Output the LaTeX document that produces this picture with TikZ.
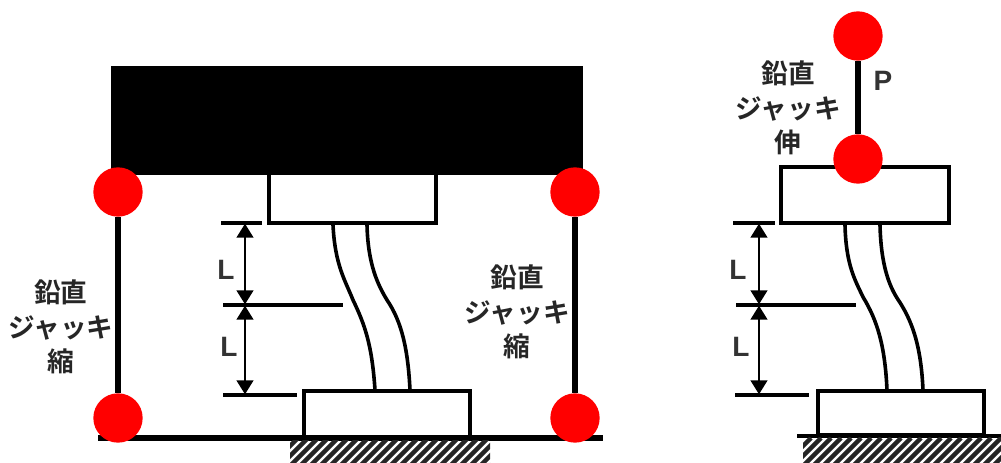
\documentclass[tikz,border=0pt]{standalone}
\usepackage{fontspec}
\setmainfont{Liberation Sans}
\newfontfamily\cjk{Noto Sans CJK JP}[BoldFont=* Bold]
\usetikzlibrary{arrows.meta}
\tikzset{
  x=0.75pt,y=-0.75pt,
  pin/.style={circle,fill=red,draw=none,minimum size=37pt,inner sep=0pt},
  jack/.style={line width=4.2pt,black},
  blockbox/.style={draw=black,line width=3pt,fill=white,inner sep=0pt},
  tick/.style={line width=2.5pt},
  thicktick/.style={line width=3.2pt},
  dim/.style={line width=1.7pt,{Triangle[width=12.5pt,length=10.5pt]}-{Triangle[width=12.5pt,length=10.5pt]},shorten <=0.5pt,shorten >=0.5pt},
  col/.style={line width=2.7pt,line cap=round},
  lab/.style={font=\cjk\bfseries\fontsize{20pt}{26pt}\selectfont,align=center,inner sep=0pt,text=black!85},
  len/.style={font=\bfseries\fontsize{21pt}{21pt}\selectfont,inner sep=0pt,text=black!80},
  hatch/.style={line width=3.2pt,black!85},
  base/.style={line width=3.8pt,black}
}
\begin{document}
\begin{tikzpicture}
\useasboundingbox (0,0) rectangle (1001,463);
% left figure
\fill[black] (111,66) rectangle (583,175);
\draw[blockbox] (269,173) rectangle (436,223);
\draw[blockbox] (304,391) rectangle (470,437);
\coordinate (gl) at (98,438);
\coordinate (gr) at (603,438);
\draw[base] (gl) -- (gr);
\begin{scope}
  \clip (290,441) rectangle (490,463);
  \foreach \k in {-3,...,24}{
    \draw[hatch] (290+\k*10,466) -- ++(28,-28);
  }
\end{scope}
\node[pin] (a1) at (118,192) {};
\node[pin] (a2) at (118,418) {};
\node[pin] (a3) at (575,192) {};
\node[pin] (a4) at (575,418) {};
\draw[jack] (a1) -- (a2);
\draw[jack] (a3) -- (a4);
\coordinate (t1a) at (221,223); \coordinate (t1b) at (262,223);
\coordinate (t2a) at (223,305); \coordinate (t2b) at (343,305);
\coordinate (t3a) at (223,395); \coordinate (t3b) at (297,395);
\draw[tick] (t1a) -- (t1b);
\draw[tick] (t2a) -- (t2b);
\draw[thicktick] (t3a) -- (t3b);
\coordinate (d1) at (245,223); \coordinate (d2) at (245,305); \coordinate (d3) at (245,395);
\draw[dim] (d1) -- (d2);
\draw[dim] (d2) -- (d3);
\draw[col] (333,225) .. controls (335,265) and (345,280) .. (353,300) .. controls (365,325) and (372,345) .. (375,390);
\draw[col] (367,225) .. controls (368,265) and (378,285) .. (387,300) .. controls (402,322) and (408,350) .. (410,390);
\node[len] (l1) at (226,270) {L};
\node[len] (l2) at (229,347) {L};
\node[lab] (t1) at (61,327) {鉛直\\ジャッキ\\縮};
\node[lab] (t2) at (517,312) {鉛直\\ジャッキ\\縮};
% right figure
\draw[blockbox] (781,167) rectangle (949,223);
\draw[blockbox] (818,391) rectangle (984,435);
\coordinate (hl) at (797,436);
\coordinate (hr) at (1001,436);
\draw[line width=2.6pt] (hl) -- (hr);
\begin{scope}
  \clip (803,438) rectangle (1001,463);
  \foreach \k in {-3,...,24}{
    \draw[hatch] (803+\k*10,466) -- ++(28,-28);
  }
\end{scope}
\node[pin] (b1) at (858,36) {};
\node[pin] (b2) at (858,159) {};
\draw[jack] (b1) -- (b2);
\coordinate (u1a) at (733,223); \coordinate (u1b) at (775,223);
\coordinate (u2a) at (736,305); \coordinate (u2b) at (856,305);
\coordinate (u3a) at (735,395); \coordinate (u3b) at (809,395);
\draw[tick] (u1a) -- (u1b);
\draw[tick] (u2a) -- (u2b);
\draw[thicktick] (u3a) -- (u3b);
\coordinate (e1) at (759,223); \coordinate (e2) at (759,305); \coordinate (e3) at (759,395);
\draw[dim] (e1) -- (e2);
\draw[dim] (e2) -- (e3);
\draw[col] (845,225) .. controls (846,265) and (855,280) .. (863,297) .. controls (877,320) and (885,345) .. (887,390);
\draw[col] (880,225) .. controls (881,265) and (889,285) .. (897,298) .. controls (912,320) and (921,345) .. (923,390);
\node[len] (l3) at (738,270) {L};
\node[len] (l4) at (741,347) {L};
\node[lab] (t3) at (788,108) {鉛直\\ジャッキ\\伸};
\node[len] (p) at (883,81) {P};
\end{tikzpicture}
\end{document}
